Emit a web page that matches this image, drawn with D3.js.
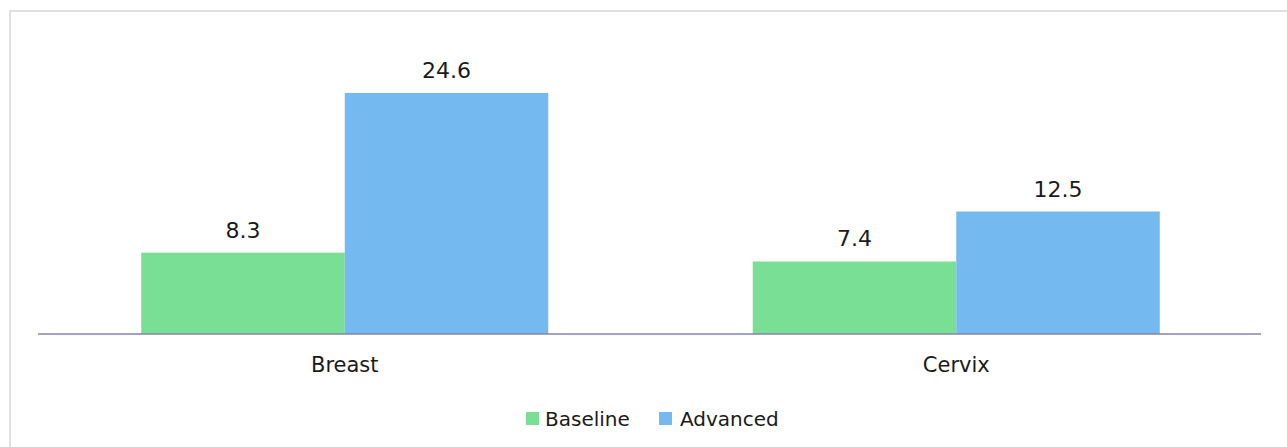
<!DOCTYPE html>
<html>
<head>
<meta charset="utf-8">
<script src="https://cdn.jsdelivr.net/npm/d3@7"></script>
<style>
  html, body { margin: 0; padding: 0; background: #fff; }
  svg { display: block; }
</style>
</head>
<body>
<svg id="chart" width="1287" height="447"></svg>
<script>
const categories = ["Breast", "Cervix"];
const seriesNames = ["Baseline", "Advanced"];
const baselineValues = [8.3, 7.4];
const advancedValues = [24.6, 12.5];
const seriesColors = ["#79df95", "#74b9ef"];

const W = 1287, H = 447;
const svg = d3.select("#chart");
const font = "DejaVu Sans, sans-serif";
const textColor = "#1a1a1a";

// frame
svg.append("rect").attr("x", 10).attr("y", 11).attr("width", W + 20).attr("height", H + 20)
  .attr("fill", "none").attr("stroke", "#e0e0e4").attr("stroke-width", 2);

const margin = { left: 38, right: 26, top: 40, bottom: 113 };
const plotW = W - margin.left - margin.right;
const y0 = 334;

const x = d3.scaleBand().domain(categories).range([margin.left, margin.left + plotW]).paddingInner(0).paddingOuter(0);
const groupW = 407;
const inner = d3.scaleBand().domain(seriesNames).range([0, groupW]).padding(0);
const y = d3.scaleLinear().domain([0, 30]).range([y0, y0 - 294]);

const data = categories.map((c, i) => ({ cat: c, vals: [baselineValues[i], advancedValues[i]] }));

const g = svg.append("g");
data.forEach(d => {
  const gx = x(d.cat) + x.bandwidth() / 2 - groupW / 2 + 1;
  d.vals.forEach((v, j) => {
    const bx = gx + inner(seriesNames[j]);
    g.append("rect")
      .attr("x", bx).attr("y", y(v))
      .attr("width", inner.bandwidth()).attr("height", y(0) - y(v))
      .attr("fill", seriesColors[j]);
    g.append("text")
      .attr("x", bx + inner.bandwidth() / 2).attr("y", y(v) - 15)
      .attr("text-anchor", "middle")
      .attr("font-family", font).attr("font-size", 22)
      .attr("fill", textColor)
      .text(v.toFixed(1));
  });
});

// axis
const axis = d3.axisBottom(x).tickSize(0).tickPadding(0);
const ax = svg.append("g").attr("transform", `translate(0,${y0})`).call(axis);
ax.select(".domain").attr("stroke", "#8585a8").attr("stroke-width", 1.5)
  .attr("d", `M${margin.left},0H${margin.left + plotW}`);
ax.selectAll(".tick text")
  .attr("font-family", font).attr("font-size", 21).attr("fill", textColor)
  .attr("dy", 0).attr("y", 38).attr("dx", 1);

// legend
const legend = svg.append("g");
const legendItems = [
  { name: seriesNames[0], color: seriesColors[0], sx: 526, tx: 545 },
  { name: seriesNames[1], color: seriesColors[1], sx: 659, tx: 680 }
];
legendItems.forEach(it => {
  legend.append("rect").attr("x", it.sx).attr("y", 412).attr("width", 13).attr("height", 13).attr("fill", it.color);
  legend.append("text").attr("x", it.tx).attr("y", 426)
    .attr("font-family", font).attr("font-size", 20).attr("fill", textColor)
    .text(it.name);
});
</script>
</body>
</html>
